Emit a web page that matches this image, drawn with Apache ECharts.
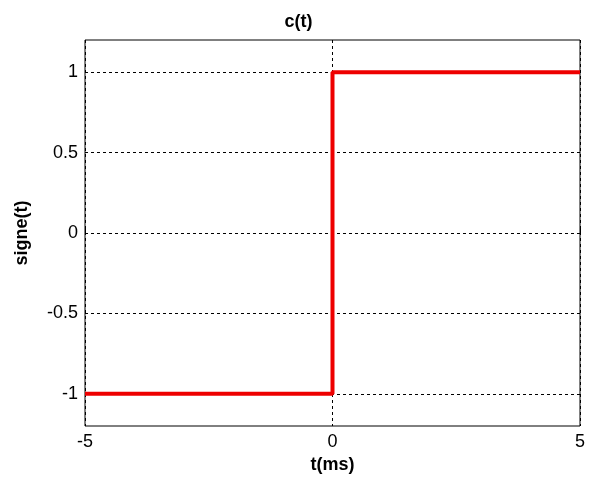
<!DOCTYPE html>
<html><head><meta charset="utf-8">
<script src="https://cdn.jsdelivr.net/npm/echarts@6/dist/echarts.min.js"></script>
<style>html,body{margin:0;padding:0;background:#fff}#c{width:597px;height:479px}</style>
</head><body><div id="c"></div>
<script>
const tValues = [-5, 0, 0, 5];
const signValues = [-1, -1, 1, 1];
const xTicks = [-5, 0, 5];
const yTicks = [-1, -0.5, 0, 0.5, 1];
const titleText = 'c(t)';
const xName = 't(ms)';
const yName = 'signe(t)';

const chart = echarts.init(document.getElementById('c'));
const font = 'Liberation Sans, Arial, sans-serif';
chart.setOption({
  animation: false,
  backgroundColor: '#fff',
  title: { text: titleText, left: 'center', top: 8, textStyle: { fontFamily: font, fontSize: 18, fontWeight: 'bold', color: '#000' } },
  grid: { left: 85, right: 17, top: 40, bottom: 53, show: true, borderColor: '#000', borderWidth: 1, backgroundColor: '#fff' },
  xAxis: {
    type: 'value', min: -5, max: 5, interval: 5,
    name: xName, nameLocation: 'middle', nameGap: 30,
    nameTextStyle: { fontFamily: font, fontSize: 18, fontWeight: 'bold', color: '#000' },
    axisLine: { show: false },
    axisTick: { show: true, inside: true, length: 5, lineStyle: { color: '#000' } },
    axisLabel: { fontFamily: font, fontSize: 18, color: '#000', margin: 7, formatter: v => xTicks.includes(v) ? String(v) : '' },
    splitLine: { show: true, lineStyle: { color: '#000', type: [3, 3], width: 1 } }
  },
  yAxis: {
    type: 'value', min: -1.2, max: 1.2,
    name: yName, nameLocation: 'middle', nameGap: 54, nameRotate: 90,
    nameTextStyle: { fontFamily: font, fontSize: 18, fontWeight: 'bold', color: '#000' },
    axisLine: { show: false },
    axisTick: { show: false },
    axisLabel: { show: false },
    splitLine: { show: false }
  },
  series: [
    { type: 'line', data: yTicks.map(v => [-5, v]), showSymbol: false, lineStyle: { width: 0 }, silent: true,
      markLine: { symbol: 'none', silent: true,
        label: { show: true, position: 'start', distance: 7, formatter: p => String(p.value), fontFamily: font, fontSize: 18, color: '#000' },
        lineStyle: { color: '#000', type: [3, 3], width: 1 },
        data: yTicks.map(v => ({ yAxis: v })) } },
    { type: 'line', data: tValues.map((t, i) => [t, signValues[i]]), showSymbol: false,
      lineStyle: { color: '#ee0000', width: 4 }, z: 5 }
  ]
});
</script></body></html>
